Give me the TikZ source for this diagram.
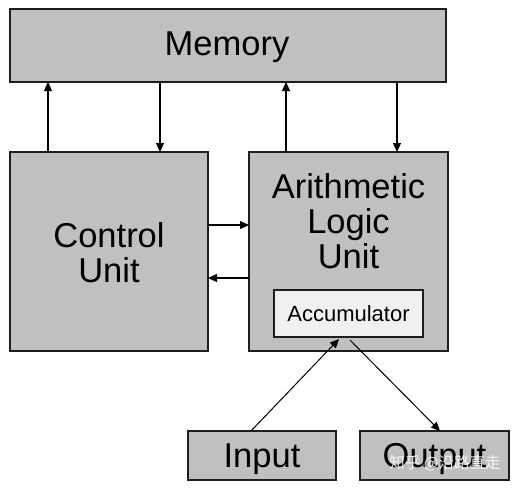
\documentclass[tikz,border=0pt]{standalone}
\usepackage{fontspec}
\setmainfont{Liberation Sans}
\newfontfamily\cjk{Noto Sans CJK SC}
\usetikzlibrary{arrows.meta}
\definecolor{boxgray}{HTML}{C0C0C0}
\definecolor{accgray}{HTML}{F0F0F0}
\definecolor{edge}{HTML}{1E1E1E}
\begin{document}
\begin{tikzpicture}[x=1pt,y=-1pt,
  unitbox/.style={draw=edge,line width=1.6pt,fill=boxgray,inner sep=0pt,outer sep=0pt},
  accbox/.style={draw=edge,line width=1.4pt,fill=accgray,inner sep=0pt,outer sep=0pt},
  bigtext/.style={font=\fontsize{34.5}{35}\selectfont,align=center,inner sep=0pt},
  conn/.style={line width=1.2pt,draw=black,-{Triangle[length=9pt,width=8pt]}}]
\useasboundingbox (0,0) rectangle (514,491);
\fill[white] (0,0) rectangle (514,491);
\node[unitbox,minimum width=436pt,minimum height=73pt] (mem) at (228,45.5) {};
\node[bigtext] (memtext) at (227,47) {Memory};
\node[unitbox,minimum width=198pt,minimum height=199pt] (ctrl) at (109,251.5) {};
\node[bigtext] (ctrltext) at (109,253) {Control\\Unit};
\node[unitbox,minimum width=199pt,minimum height=199pt] (alu) at (348.5,251.5) {};
\node[bigtext] (alutext) at (348.5,221) {Arithmetic\\Logic\\Unit};
\node[accbox,minimum width=149pt,minimum height=47pt,font=\fontsize{22}{24}\selectfont] (acc) at (348.5,313.5) {Accumulator};
\node[unitbox,minimum width=148pt,minimum height=49pt] (inp) at (262,455.5) {};
\node[bigtext] (inptext) at (262,459) {Input};
\node[unitbox,minimum width=149pt,minimum height=49pt] (outp) at (434.5,455.5) {};
\node[bigtext] (outptext) at (434.5,459) {Output};
% vertical connectors
\draw[conn] (ctrl.north -| 48,0) -- (mem.south -| 48,0);
\draw[conn] (mem.south -| 160,0) -- (ctrl.north -| 160,0);
\draw[conn] (alu.north -| 286,0) -- (mem.south -| 286,0);
\draw[conn] (mem.south -| 397,0) -- (alu.north -| 397,0);
% horizontal connectors
\draw[conn] (ctrl.east |- 0,225) -- (alu.west |- 0,225);
\draw[conn] (alu.west |- 0,278) -- (ctrl.east |- 0,278);
% diagonal connectors
\coordinate (inA) at (251,430);
\coordinate (accIn) at (339,339);
\coordinate (accOut) at (350,340);
\coordinate (outA) at (440,431);
\draw[conn,line width=1pt] (inp.north -| inA) -- (accIn);
\draw[conn,line width=1pt] (accOut) -- (outp.north -| outA);
\node[font=\cjk\fontsize{15.5}{17}\selectfont,text=white,opacity=0.9,inner sep=0pt] (wm) at (445,463) {知乎 @沿路直走};
\end{tikzpicture}
\end{document}
